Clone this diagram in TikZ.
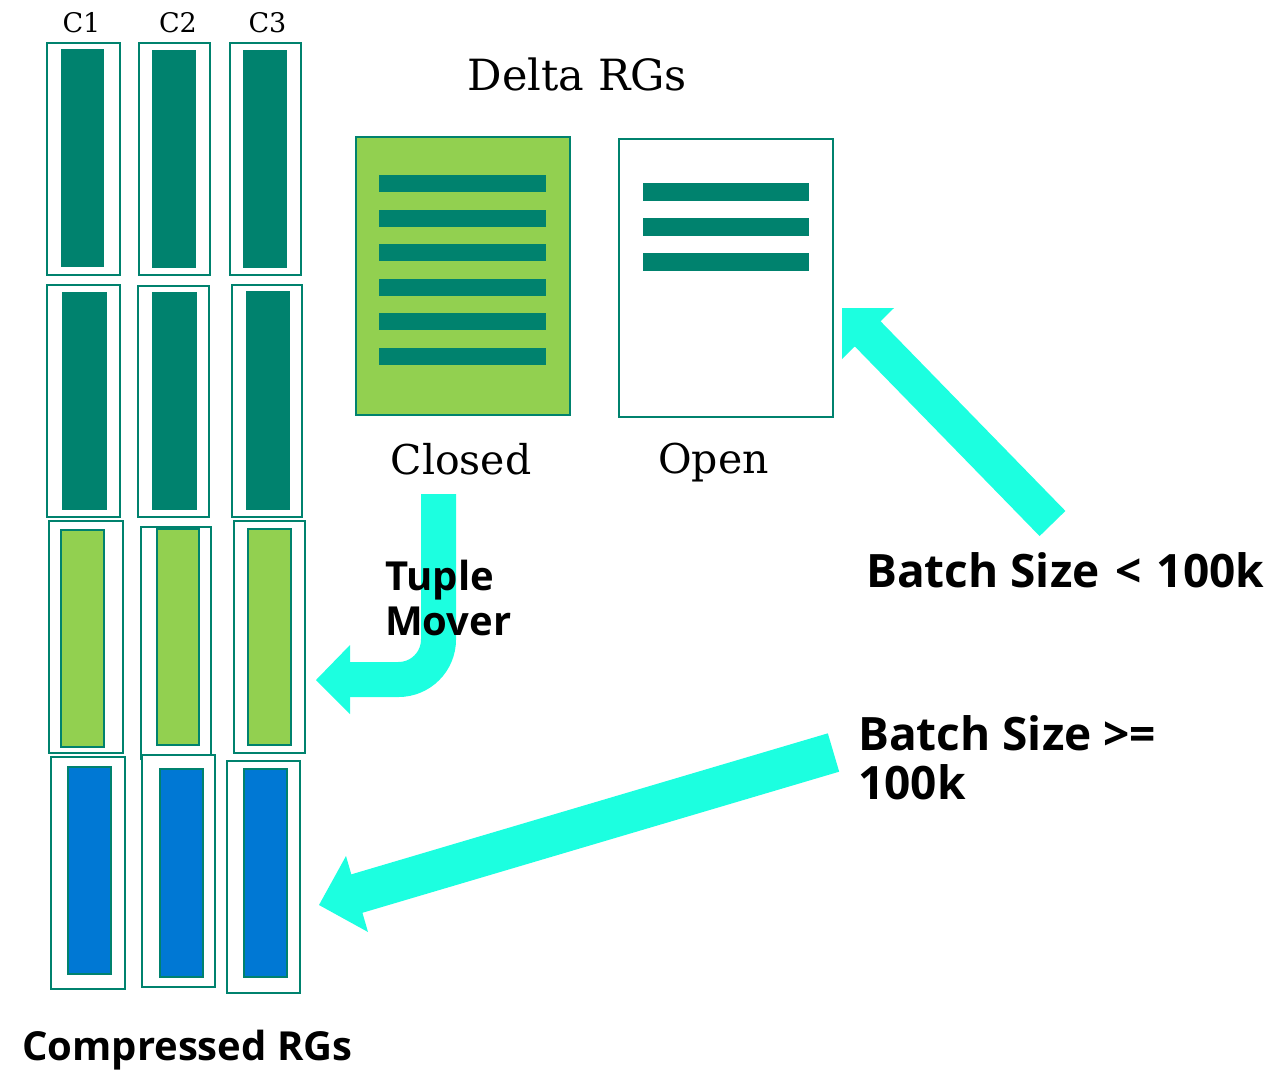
\documentclass[tikz,border=0pt]{standalone}
\usepackage{fontspec}
\newfontfamily\labelserif{DejaVu Serif}
\IfFontExistsTF{Open Sans Bold}
  {\newfontfamily\labelsans{Open Sans}[BoldFont={Open Sans Bold}]}
  {\IfFontExistsTF{Lato Bold}
    {\newfontfamily\labelsans{Lato}[BoldFont={Lato Bold}]}
    {\newfontfamily\labelsans{Liberation Sans}}}
\definecolor{rgteal}{RGB}{0,130,110}
\definecolor{rggreen}{RGB}{146,208,80}
\definecolor{rgblue}{RGB}{0,120,212}
\definecolor{rgcyan}{RGB}{28,255,224}
\begin{document}
\begin{tikzpicture}[x=1pt,y=-1pt,
  cellbox/.style={draw=rgteal, line width=2pt, fill=white},
  densebar/.style={fill=rgteal},
  deltabar/.style={fill=rggreen, draw=rgteal, line width=1.8pt},
  cmpbar/.style={fill=rgblue, draw=rgteal, line width=1.8pt},
  rgbox/.style={draw=rgteal, line width=2pt, inner sep=0pt, outer sep=0pt},
  rowline/.style={fill=rgteal},
  flowline/.style={draw=rgcyan, line width=#1},
  flowhead/.style={fill=rgcyan},
  serifcap/.style={inner sep=0pt, font=\labelserif\fontsize{#1}{#1}\selectfont},
  sanscap/.style={inner sep=0pt, align=left, font=\labelsans\bfseries\fontsize{#1}{#1}\selectfont}
]
\useasboundingbox (0,0) rectangle (1276,1071);

% ---- column headers
\node[serifcap=27, anchor=base] (hc1) at (81.5,32) {C1};
\node[serifcap=27, anchor=base] (hc2) at (178,32) {C2};
\node[serifcap=27, anchor=base] (hc3) at (267.5,32) {C3};

% ---- compressed row groups: row 1
\draw[cellbox] (47,43) rectangle (120,275);
\fill[densebar] (61,49) rectangle (104,267);
\draw[cellbox] (139,43) rectangle (210,275);
\fill[densebar] (152,50) rectangle (196,268);
\draw[cellbox] (230,43) rectangle (301,275);
\fill[densebar] (243,50) rectangle (287,268);

% row 2
\draw[cellbox] (47,285) rectangle (120,517);
\fill[densebar] (62,292) rectangle (107,510);
\draw[cellbox] (138,286) rectangle (209,517);
\fill[densebar] (152,292) rectangle (197,510);
\draw[cellbox] (232,285) rectangle (302,517);
\fill[densebar] (246,291) rectangle (290,510);

% row 3 (from the tuple mover)
\draw[cellbox] (49,521) rectangle (123,753);
\draw[deltabar] (61,530) rectangle (104,747);
\draw[cellbox] (141,527) rectangle (211,759);
\draw[deltabar] (157,529) rectangle (199,745);
\draw[cellbox] (234,521) rectangle (305,753);
\draw[deltabar] (248,529) rectangle (291,745);

% row 4 (bulk load)
\draw[cellbox] (51,757) rectangle (125,989);
\draw[cmpbar] (68,767) rectangle (111,974);
\draw[cellbox] (142,755) rectangle (215,987);
\draw[cmpbar] (160,769) rectangle (203,977);
\draw[cellbox] (227,761) rectangle (300,993);
\draw[cmpbar] (244,769) rectangle (287,977);

\node[sanscap=40, anchor=base west] (cmplabel) at (22,1060) {Compressed RGs};

% ---- delta row groups
\node[serifcap=43, anchor=base] (deltalabel) at (577.5,90) {Delta RGs};

\node[rgbox, fill=rggreen, minimum width=214pt, minimum height=278pt] (closedrg) at (463,276) {};
\foreach \i in {0,...,5}
  \fill[rowline] (379,175+34.6*\i) rectangle (546,192+34.6*\i);
\node[serifcap=41, anchor=base] (closedlabel) at (461,474) {Closed};

\node[rgbox, fill=white, minimum width=214pt, minimum height=278pt] (openrg) at (726,278) {};
\foreach \i in {0,1,2}
  \fill[rowline] (643,183+35*\i) rectangle (809,200.5+35*\i);
\node[serifcap=41, anchor=base] (openlabel) at (713.5,473) {Open};

% ---- tuple mover: closed delta RG into compressed column segments
\coordinate (tmstart) at (438.5,494);
\coordinate (tmbend) at (438.5,679.5);
\coordinate (tmbase) at (349,679.5);
\coordinate (tmtip) at (316,680);
\draw[flowline=35pt, rounded corners=40pt] (tmstart) -- (tmbend) -- (tmbase);
\fill[flowhead] (tmtip) -- (350,645) -- (350,714) -- cycle;
\node[sanscap=40, anchor=base west] (tmlabel) at (385,635) {Tuple\\[5pt]Mover};

% ---- trickle insert into the open delta RG
\coordinate (smallstart) at (1052.5,523.5);
\coordinate (smallbase) at (862,328);
\coordinate (smalltip) at (842,308);
\draw[flowline=36pt] (smallstart) -- (smallbase);
\fill[flowhead] (smalltip) -- (894,308) -- (842,359) -- cycle;
\node[sanscap=46, anchor=base west] (smalllabel) at (866,587) {Batch Size\hspace{4pt} <\hspace{3pt} 100k};

% ---- bulk insert straight into compressed RGs
\coordinate (bulkstart) at (833.5,752.5);
\coordinate (bulkbase) at (352,895);
\coordinate (bulktip) at (319,905);
\draw[flowline=40pt] (bulkstart) -- (bulkbase);
\fill[flowhead] (bulktip) -- (346,856) -- (368,932) -- cycle;
\node[sanscap=46, anchor=base west] (bulklabel) at (858,799) {Batch Size >=\\[3pt]100k};
\end{tikzpicture}
\end{document}
